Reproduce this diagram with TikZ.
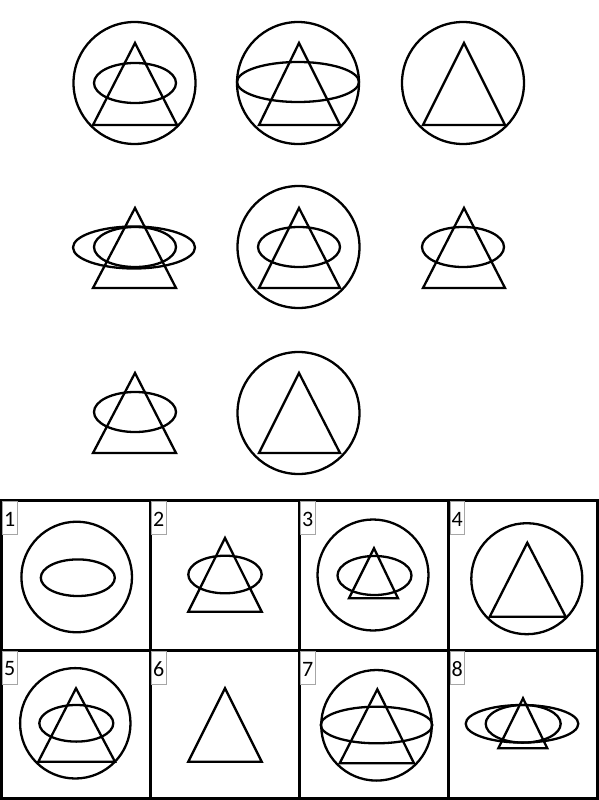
\documentclass[tikz,border=0pt]{standalone}
\usepackage{fontspec}
\setmainfont{Carlito}
\begin{document}
\begin{tikzpicture}[x=1pt,y=-1pt,
  fig/.style={line width=2.3pt,line join=miter,black},
  gridln/.style={line width=3pt,black},
  lbox/.style={draw=gray!70,line width=0.8pt},
  lnum/.style={inner sep=0pt,font=\fontsize{22}{22}\selectfont}]
\useasboundingbox (0,0) rectangle (599,800);
\fill[white] (0,0) rectangle (599,800);
% ---------- matrix (top) ----------
% fig 1
\draw[fig] (134.5,83) circle (61);
\draw[fig] (135,43) -- (93,125) -- (177,125) -- cycle;
\draw[fig] (135,83) ellipse (41 and 20);
% fig 2
\draw[fig] (298,83) circle (61);
\draw[fig] (299,43) -- (259,125) -- (340,125) -- cycle;
\draw[fig] (298,82) ellipse (61 and 20);
% fig 3
\draw[fig] (463,83) circle (61);
\draw[fig] (464,43) -- (423,125) -- (505,125) -- cycle;
% fig 4
\draw[fig] (135,208) -- (93,288) -- (176,288) -- cycle;
\draw[fig] (134,247.5) ellipse (61 and 21);
\draw[fig] (135,247) ellipse (41 and 20);
% fig 5
\draw[fig] (298.5,247) circle (61);
\draw[fig] (299,208) -- (259,288) -- (340,288) -- cycle;
\draw[fig] (299,247) ellipse (41 and 20);
% fig 6
\draw[fig] (464,208) -- (423,288) -- (505,288) -- cycle;
\draw[fig] (463,247) ellipse (41 and 20);
% fig 7
\draw[fig] (135,373) -- (93,453) -- (176,453) -- cycle;
\draw[fig] (135,412) ellipse (41 and 20);
% fig 8
\draw[fig] (298.5,413) circle (61);
\draw[fig] (299,373) -- (259,453) -- (340,453) -- cycle;
% ---------- answer grid ----------
\draw[gridln] (1,500) rectangle (597,798);
\draw[gridln] (150,500) -- (150,798);
\draw[gridln] (299,500) -- (299,798);
\draw[gridln] (448.5,500) -- (448.5,798);
\draw[gridln] (1,650) -- (597,650);
% labels
\foreach \n/\lx/\ty in {1/2.5/501.5, 2/151.5/501.5, 3/300.5/501.5, 4/450/501.5,
                       5/2.5/651.5, 6/151.5/651.5, 7/300.5/651.5, 8/450/651.5}{
  \draw[lbox] (\lx,\ty) rectangle ++(14.5,32.5);
  \node[lnum] (l\n) at (\lx+7.2,\ty+17.5) {\n};
}
% option 1
\draw[fig] (76.7,577) circle (55.3);
\draw[fig] (77.8,577.7) ellipse (37 and 18.3);
% option 2
\draw[fig] (225,538) -- (188.3,611.7) -- (261.7,611.7) -- cycle;
\draw[fig] (225,574.5) ellipse (36.7 and 18.8);
% option 3
\draw[fig] (373,575) circle (55.5);
\draw[fig] (374.5,575.5) ellipse (37 and 19.5);
\draw[fig] (374,548.3) -- (349,598.3) -- (398,598.3) -- cycle;
% option 4
\draw[fig] (526.8,578.7) circle (55.5);
\draw[fig] (527.3,542.7) -- (489.7,616.7) -- (565.7,616.7) -- cycle;
% option 5
\draw[fig] (75.3,723.3) circle (55.2);
\draw[fig] (76,688.3) -- (38.3,761.7) -- (115,761.7) -- cycle;
\draw[fig] (76.3,723.3) ellipse (37 and 18.3);
% option 6
\draw[fig] (225,688.3) -- (188.3,761.7) -- (261.7,761.7) -- cycle;
% option 7
\draw[fig] (376.5,725.3) circle (55.3);
\draw[fig] (376.5,725) ellipse (55.8 and 18.3);
\draw[fig] (377.3,689.3) -- (339.7,763.3) -- (414,763.3) -- cycle;
% option 8
\draw[fig] (522,723.8) ellipse (56.3 and 18.8);
\draw[fig] (523.2,723.8) ellipse (37.5 and 18.8);
\draw[fig] (523,698.3) -- (498.3,748.3) -- (547.3,748.3) -- cycle;
\end{tikzpicture}
\end{document}
